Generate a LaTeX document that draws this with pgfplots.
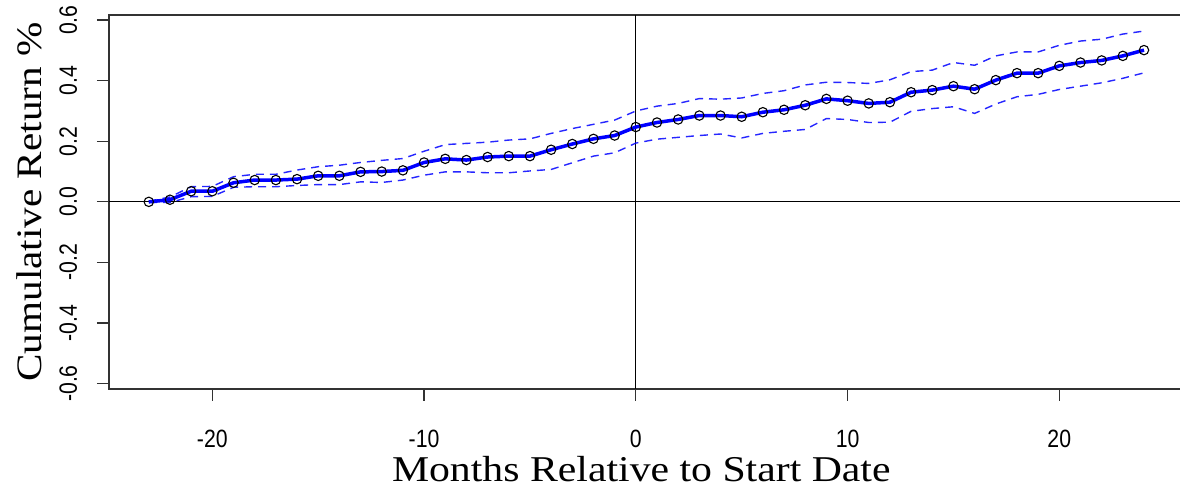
\documentclass[border=0pt]{standalone}
\usepackage{pgfplots}
\pgfplotsset{compat=1.18}
\usepackage{pgfplotstable}
\usepackage{fontspec}
\setmainfont{Liberation Serif}
\newfontfamily\tickfont[FakeStretch=0.85]{Liberation Sans}
\newfontfamily\titlefont[FakeStretch=1.15]{Liberation Serif}

\pgfplotstableread{
x mid up lo
-23 0.000 0.002 -0.002
-22 0.007 0.016 -0.002
-21 0.035 0.050 0.017
-20 0.035 0.051 0.018
-19 0.063 0.083 0.048
-18 0.072 0.091 0.050
-17 0.072 0.091 0.050
-16 0.075 0.105 0.054
-15 0.086 0.116 0.057
-14 0.086 0.121 0.057
-13 0.099 0.130 0.066
-12 0.100 0.137 0.064
-11 0.104 0.143 0.072
-10 0.130 0.167 0.088
-9 0.142 0.189 0.099
-8 0.138 0.193 0.099
-7 0.148 0.197 0.096
-6 0.151 0.204 0.096
-5 0.151 0.208 0.102
-4 0.172 0.226 0.107
-3 0.191 0.242 0.129
-2 0.208 0.256 0.151
-1 0.219 0.270 0.162
0 0.247 0.300 0.194
1 0.262 0.316 0.207
2 0.272 0.325 0.213
3 0.285 0.341 0.219
4 0.285 0.339 0.224
5 0.281 0.343 0.211
6 0.296 0.358 0.226
7 0.304 0.367 0.233
8 0.319 0.386 0.239
9 0.340 0.395 0.275
10 0.334 0.394 0.272
11 0.325 0.391 0.262
12 0.329 0.403 0.263
13 0.362 0.430 0.299
14 0.369 0.435 0.308
15 0.382 0.460 0.314
16 0.372 0.451 0.292
17 0.402 0.482 0.323
18 0.425 0.495 0.347
19 0.425 0.495 0.355
20 0.449 0.517 0.371
21 0.460 0.531 0.382
22 0.467 0.537 0.393
23 0.482 0.554 0.408
24 0.501 0.564 0.426
}\datatable

\definecolor{rblue}{RGB}{0,0,255}
\definecolor{frame}{RGB}{50,50,50}

\begin{document}
\begin{tikzpicture}
\begin{axis}[
  name=ax,
  scale only axis,
  width=1071bp, height=374bp,
  xmin=-24.88, xmax=25.70,
  ymin=-0.618, ymax=0.617,
  clip=false,
  axis line style={draw=none},
  tick pos=left,
  tick align=outside,
  major tick length=12bp,
  tick style={frame, line width=1.3bp},
  xtick={-20,-10,0,10,20},
  xticklabels={-20,-10,0,10,20},
  ytick={-0.6,-0.4,-0.2,0,0.2,0.4,0.6},
  yticklabels={-0.6,-0.4,-0.2,0.0,0.2,0.4,0.6},
  tick label style={font=\tickfont\fontsize{25bp}{25bp}\selectfont, text=black},
  xticklabel style={anchor=north, inner sep=0pt, yshift=-29bp},
  yticklabel style={xshift=-20bp, rotate=90, anchor=base, inner sep=0pt},
  xlabel={Months Relative to Start Date},
  ylabel={Cumulative Return \%},
  every axis x label/.style={at={(axis description cs:0.497,0)}, yshift=-93bp, anchor=base, inner sep=0pt, font=\titlefont\fontsize{36.3bp}{37bp}\selectfont},
  every axis y label/.style={at={(axis description cs:0,0.5)}, xshift=-67bp, rotate=90, anchor=base, inner sep=0pt, font=\titlefont\fontsize{35.8bp}{36bp}\selectfont},
]
\draw[frame, line width=1.5bp] (rel axis cs:1,1) -- (rel axis cs:0,1) -- (rel axis cs:0,0) -- (rel axis cs:1,0);
\draw[black, line width=1.2bp] (axis cs:-24.88,0) -- (axis cs:25.70,0);
\draw[black, line width=1.2bp] (axis cs:0,-0.618) -- (axis cs:0,0.617);
\addplot[rblue, opacity=0.85, line width=1.4bp, dash pattern=on 8bp off 6bp] table[x=x, y=up] {\datatable};
\addplot[rblue, opacity=0.85, line width=1.4bp, dash pattern=on 8bp off 6bp] table[x=x, y=lo] {\datatable};
\addplot[rblue, line width=3.5bp, mark=o, mark size=4.7bp, mark options={black, line width=1.1bp, fill=none, opacity=1}] table[x=x, y=mid] {\datatable};
\end{axis}
\pgfresetboundingbox
\useasboundingbox ([xshift=-109bp,yshift=15bp]ax.north west) rectangle ([yshift=-102bp]ax.south east);
\end{tikzpicture}
\end{document}
